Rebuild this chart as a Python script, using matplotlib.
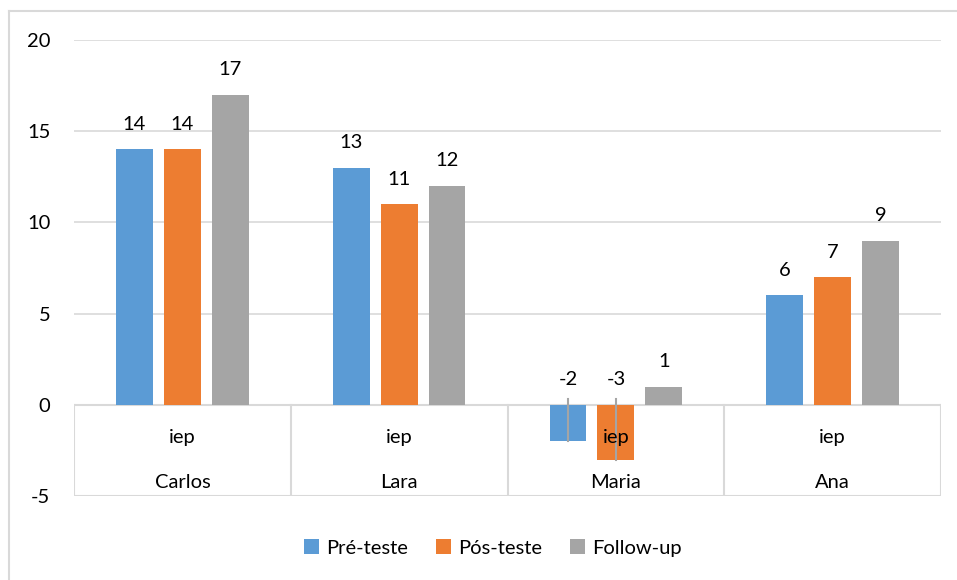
import matplotlib
matplotlib.use('Agg')
import matplotlib.pyplot as plt
from matplotlib.lines import Line2D
import numpy as np

plt.rcParams['font.family'] = ['Lato', 'DejaVu Sans']
plt.rcParams['axes.unicode_minus'] = False

names = ['Carlos', 'Lara', 'Maria', 'Ana']
sub_label = 'iep'
series = ['Pré-teste', 'Pós-teste', 'Follow-up']
pre = [14, 13, -2, 6]
pos = [14, 11, -3, 7]
follow = [17, 12, 1, 9]
colors = ['#5B9BD5', '#ED7D31', '#A5A5A5']
yticks = [-5, 0, 5, 10, 15, 20]

fs = 14.5

fig = plt.figure(figsize=(9.57, 5.8), dpi=100)
ax = fig.add_axes([74 / 957, 1 - 496 / 580, 867 / 957, 456 / 580])

# chart area border (only left and top visible)
fig.add_artist(Line2D([9 / 957, 9 / 957], [0, 1 - 11 / 580], color='#D9D9D9', lw=1.5))
fig.add_artist(Line2D([9 / 957, 1], [1 - 11 / 580, 1 - 11 / 580], color='#D9D9D9', lw=1.5))

x = np.arange(len(names))
width = 0.17
step = 0.221
grid_c = '#D9D9D9'

for yv in [5, 10, 15, 20]:
    ax.axhline(yv, color=grid_c, lw=1.2, zorder=0)

# category box
ax.plot([-0.5, 3.5], [0, 0], color=grid_c, lw=1.5, zorder=1)
ax.plot([-0.5, 3.5], [-5, -5], color=grid_c, lw=1.5, zorder=1)
for b in np.arange(-0.5, 4, 1):
    ax.plot([b, b], [0, -5], color=grid_c, lw=1.5, zorder=1)

for i, (vals, c) in enumerate(zip([pre, pos, follow], colors)):
    xs = x + (i - 1) * step
    ax.bar(xs, vals, width, color=c, label=series[i], zorder=2)
    for xi, v in zip(xs, vals):
        ax.annotate(str(v), (xi, max(v, 0)), xytext=(0, 18), textcoords='offset points',
                    ha='center', va='center', fontsize=fs, color='black')
        if v < 0:
            # leader line from label to bar
            ax.plot([xi, xi], [0.3, v], color='#A5A5A5', lw=1.5, zorder=3)

for xi, n in zip(x, names):
    ax.text(xi, -1.79, sub_label, ha='center', va='center', fontsize=fs, zorder=4)
    ax.text(xi, -4.26, n, ha='center', va='center', fontsize=fs, zorder=4)

ax.set_xlim(-0.5, 3.5)
ax.set_ylim(-5, 20)
ax.set_yticks(yticks)
ax.set_xticks([])
ax.tick_params(axis='y', length=0, pad=17, labelsize=fs)
for s in ax.spines.values():
    s.set_visible(False)

fig.legend(loc='center', bbox_to_anchor=(493 / 957, 1 - 548 / 580), ncol=3, frameon=False,
           fontsize=fs, handlelength=0.75, handleheight=0.75, handletextpad=0.35,
           columnspacing=1.4)

fig.savefig('out.png', dpi=100)
